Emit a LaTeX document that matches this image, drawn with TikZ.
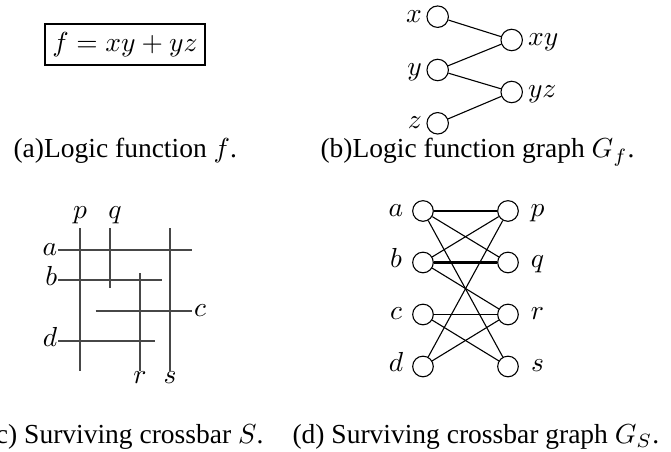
\documentclass[tikz,border=0pt]{standalone}
\usepackage{fontspec}
\setmainfont{Liberation Serif}
\begin{document}
\begin{tikzpicture}[x=0.3636pt,y=-0.3636pt,
  vtx/.style={circle,draw,line width=0.4pt,minimum size=7.8pt,inner sep=0pt},
  gvtx/.style={circle,draw,line width=0.4pt,minimum size=7.5pt,inner sep=0pt},
  edg/.style={line width=0.4pt},
  bar/.style={draw=black!72,line width=0.6pt},
  lbl/.style={inner sep=0pt,anchor=base},
  lble/.style={inner sep=0pt,anchor=base east},
  lblw/.style={inner sep=0pt,anchor=base west},
  captxt/.style={inner sep=0pt,font=\fontsize{10pt}{12pt}\selectfont}]
\useasboundingbox (0,0) rectangle (671,452);

% (a)
\node[draw,line width=0.8pt,minimum width=58.2pt,minimum height=14.9pt,inner sep=0pt] (fbox) at (125,44.5) {$f=xy+yz$};
\node[captxt,anchor=base west] (capa) at (13,158) {(a)Logic function $f$.};

% (b)
\node[vtx] (x) at (437.7,16.7) {};
\node[vtx] (y) at (437.7,70) {};
\node[vtx] (z) at (437.7,123.3) {};
\node[vtx] (xy) at (511.7,40) {};
\node[vtx] (yz) at (511.7,92) {};
\node[lble] (lx) at (422.5,22.2) {$x$};
\node[lble] (ly) at (422.5,75.5) {$y$};
\node[lble] (lz) at (422.5,128.8) {$z$};
\node[lblw] (lxy) at (527.5,45.5) {$xy$};
\node[lblw] (lyz) at (527.5,97.5) {$yz$};
\draw[edg] (x) -- (xy);
\draw[edg] (y) -- (xy);
\draw[edg] (y) -- (yz);
\draw[edg] (z) -- (yz);
\node[captxt,anchor=base west] (capb) at (320,158) {(b)Logic function graph $G_f$.};

% (c)
\coordinate (p1) at (80,228.3);  \coordinate (p2) at (80,370.7);
\coordinate (q1) at (110,228.3); \coordinate (q2) at (110,288.3);
\coordinate (r1) at (140,273.3); \coordinate (r2) at (140,370.7);
\coordinate (s1) at (170,228.3); \coordinate (s2) at (170,370.7);
\coordinate (a1) at (58.3,250.3); \coordinate (a2) at (192.3,250.3);
\coordinate (b1) at (58.3,280);   \coordinate (b2) at (162.3,280);
\coordinate (c1) at (95.7,310.7); \coordinate (c2) at (191.7,310.7);
\coordinate (d1) at (58.3,341);   \coordinate (d2) at (155,341);
\draw[bar] (p1) -- (p2);
\draw[bar] (q1) -- (q2);
\draw[bar] (r1) -- (r2);
\draw[bar] (s1) -- (s2);
\draw[bar] (a1) -- (a2);
\draw[bar] (b1) -- (b2);
\draw[bar] (c1) -- (c2);
\draw[bar] (d1) -- (d2);
\node[lbl] (lp) at (80,218.3) {$p$};
\node[lbl] (lq) at (115,218.3) {$q$};
\node[lbl] (lr) at (140,383.3) {$r$};
\node[lbl] (ls) at (170,383.3) {$s$};
\node[lble] (la) at (57.8,256) {$a$};
\node[lble] (lb) at (57.8,285.7) {$b$};
\node[lble] (ld) at (57.8,346.7) {$d$};
\node[lblw] (lc) at (193.5,316.4) {$c$};
\node[captxt,anchor=base east] (capc) at (264,443.3) {(c) Surviving crossbar $S$.};

% (d)
\node[gvtx] (ga) at (423,211) {};
\node[gvtx] (gb) at (423,262.5) {};
\node[gvtx] (gc) at (423,314.5) {};
\node[gvtx] (gd) at (423,366.5) {};
\node[gvtx] (gp) at (508,211) {};
\node[gvtx] (gq) at (508,262.5) {};
\node[gvtx] (gr) at (508,314.5) {};
\node[gvtx] (gs) at (508,366.5) {};
\node[lbl] (gla) at (396,216.5) {$a$};
\node[lbl] (glb) at (396,268) {$b$};
\node[lbl] (glc) at (396,320) {$c$};
\node[lbl] (gld) at (396,372) {$d$};
\node[lbl] (glp) at (537.5,216.5) {$p$};
\node[lbl] (glq) at (537.5,268) {$q$};
\node[lbl] (glr) at (537.5,320) {$r$};
\node[lbl] (gls) at (537.5,372) {$s$};
\draw[edg] (ga) -- (gp);
\draw[edg] (ga) -- (gq);
\draw[edg] (ga) -- (gs);
\draw[edg] (gb) -- (gp);
\draw[line width=0.75pt] (gb) -- (gq);
\draw[edg] (gb) -- (gr);
\draw[edg] (gc) -- (gr);
\draw[edg] (gc) -- (gs);
\draw[edg] (gd) -- (gp);
\draw[edg] (gd) -- (gr);
\node[captxt,anchor=base west] (capd) at (292,443.3) {(d) Surviving crossbar graph $G_S$.};
\end{tikzpicture}
\end{document}
